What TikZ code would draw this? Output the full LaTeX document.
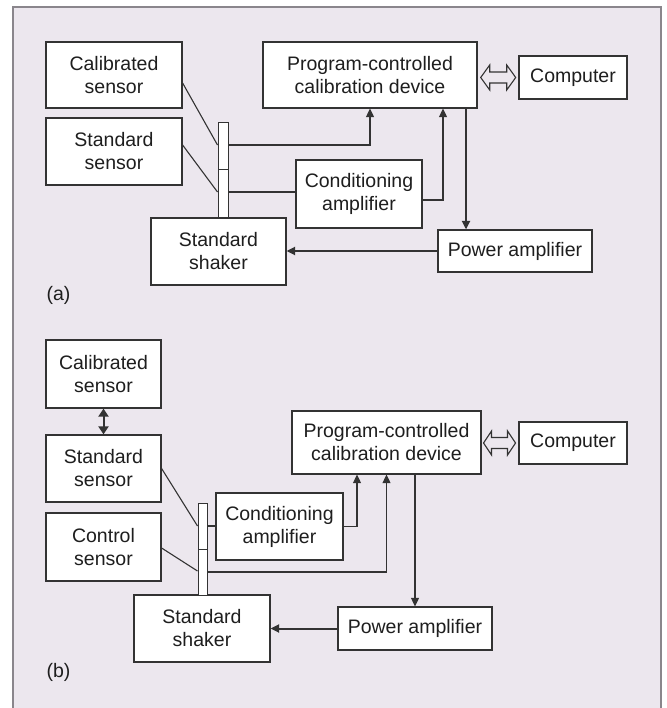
\documentclass[tikz,border=0pt]{standalone}
\usepackage{fontspec}
\setmainfont{Liberation Sans}
\usetikzlibrary{arrows.meta,calc}
\definecolor{bg}{HTML}{ECE7EE}
\definecolor{ln}{HTML}{333333}
\definecolor{tx}{HTML}{1E1E1E}
\definecolor{frm}{HTML}{8A868C}
\begin{document}
\begin{tikzpicture}[x=1pt,y=-1pt,
  box/.style={draw=ln, fill=white, line width=1.2pt, inner sep=0pt, align=center, text=tx,
    font=\fontsize{19.5}{23}\selectfont},
  rodpart/.style={draw=ln, fill=white, line width=1pt, inner sep=0pt},
  conn/.style={draw=ln, line width=1.1pt},
  heavy/.style={draw=ln, line width=2pt},
  tip/.style={-{Triangle[length=8.5pt,width=8pt]}},
  bitip/.style={{Triangle[length=8pt,width=10pt]}-{Triangle[length=8pt,width=10pt]}},
  hollowline/.style={draw=ln, line width=1.1pt, line join=miter},
  lbl/.style={inner sep=0pt, text=tx, font=\fontsize{19.5}{23}\selectfont}
]
\useasboundingbox (0,0) rectangle (666,708);
\fill[white] (0,0) rectangle (666,708);
\fill[bg] (13,7) rectangle (661,708);
\draw[frm, line width=1.5pt] (13,708) -- (13,7) -- (661,7) -- (661,708);

% ---------- (a) ----------
\node[box, minimum width=136pt, minimum height=66pt] (cal_a) at (114,75) {Calibrated\\sensor};
\node[box, minimum width=136pt, minimum height=67pt] (std_a) at (114,151.5) {Standard\\sensor};
\node[box, minimum width=214pt, minimum height=66pt] (prog_a) at (370,75) {Program-controlled\\calibration device};
\node[box, minimum width=108pt, minimum height=43pt] (comp_a) at (573,77.5) {Computer};
\node[box, minimum width=126pt, minimum height=68pt] (cond_a) at (359,194) {Conditioning\\amplifier};
\node[box, minimum width=135pt, minimum height=67pt] (shaker_a) at (218.5,251.5) {Standard\\shaker};
\node[box, minimum width=154pt, minimum height=42pt] (power_a) at (515,251) {Power amplifier};
\node[rodpart, minimum width=10pt, minimum height=47pt] (rodA1) at (223,146.5) {};
\node[rodpart, minimum width=10pt, minimum height=48pt] (rodA2) at (223,194) {};
\coordinate (da_a) at (498.2,77.5);
\node[lbl] (la) at (58.5,295) {(a)};

\draw[conn] ([yshift=-8pt]cal_a.east) -- ([yshift=1.5pt]rodA1.west);
\draw[conn] ([yshift=6.5pt]std_a.east) -- ([yshift=2pt]rodA2.west);
\draw[conn, tip] ([yshift=1.5pt]rodA1.east) -| (prog_a.south);
\draw[heavy] ([yshift=2pt]rodA2.east) -- ([yshift=2pt]rodA2.east -| cond_a.west);
\draw[conn, tip] ([yshift=-6pt]cond_a.east) -| ([xshift=73pt]prog_a.south);
\coordinate (pa1) at ([xshift=96pt]prog_a.south);
\draw[heavy, tip] (pa1) -- (pa1 |- power_a.north);
\draw[heavy, tip] (power_a.west) -- (power_a.west -| shaker_a.east);
\draw[hollowline, shift={(da_a)}] (-17.5,0) -- (-8.5,-12.5) -- (-8.5,-5.5) -- (8.5,-5.5) -- (8.5,-12.5)
  -- (17.5,0) -- (8.5,12.5) -- (8.5,5.5) -- (-8.5,5.5) -- (-8.5,12.5) -- cycle;

% ---------- (b) ----------
\node[box, minimum width=115pt, minimum height=68pt] (cal_b) at (103.5,374) {Calibrated\\sensor};
\node[box, minimum width=115pt, minimum height=67pt] (std_b) at (103.5,468.5) {Standard\\sensor};
\node[box, minimum width=115pt, minimum height=68pt] (ctrl_b) at (103.5,547) {Control\\sensor};
\node[box, minimum width=189pt, minimum height=63pt] (prog_b) at (386.5,442.5) {Program-controlled\\calibration device};
\node[box, minimum width=108pt, minimum height=42pt] (comp_b) at (573,443) {Computer};
\node[box, minimum width=127pt, minimum height=67pt] (cond_b) at (279.5,526.5) {Conditioning\\amplifier};
\node[box, minimum width=136pt, minimum height=67pt] (shaker_b) at (202,628.5) {Standard\\shaker};
\node[box, minimum width=154pt, minimum height=43pt] (power_b) at (415,628.5) {Power amplifier};
\node[rodpart, minimum width=9pt, minimum height=46pt] (rodB1) at (202.5,526) {};
\node[rodpart, minimum width=9pt, minimum height=46pt] (rodB2) at (202.5,572) {};
\coordinate (da_b) at (499.5,443);
\node[lbl] (lb) at (58.5,672) {(b)};

\draw[heavy, bitip] (cal_b.south) -- (std_b.north);
\draw[conn] (std_b.east) -- (rodB1.west);
\draw[conn] ([yshift=-1pt]ctrl_b.east) -- ([yshift=1pt]rodB2.west);
\draw[conn] (rodB1.east) -- (rodB1.east -| cond_b.west);
\draw[conn, tip] (rodB2.east) -| (prog_b.south);
\draw[conn, tip] (cond_b.east) -| ([xshift=-29.5pt]prog_b.south);
\draw[conn, tip] (prog_b.south -| power_b.north) -- (power_b.north);
\draw[heavy, tip] (power_b.west) -- (power_b.west -| shaker_b.east);
\draw[hollowline, shift={(da_b)}] (-16,0) -- (-8,-12) -- (-8,-5.5) -- (8,-5.5) -- (8,-12)
  -- (16,0) -- (8,12) -- (8,5.5) -- (-8,5.5) -- (-8,12) -- cycle;
\end{tikzpicture}
\end{document}
